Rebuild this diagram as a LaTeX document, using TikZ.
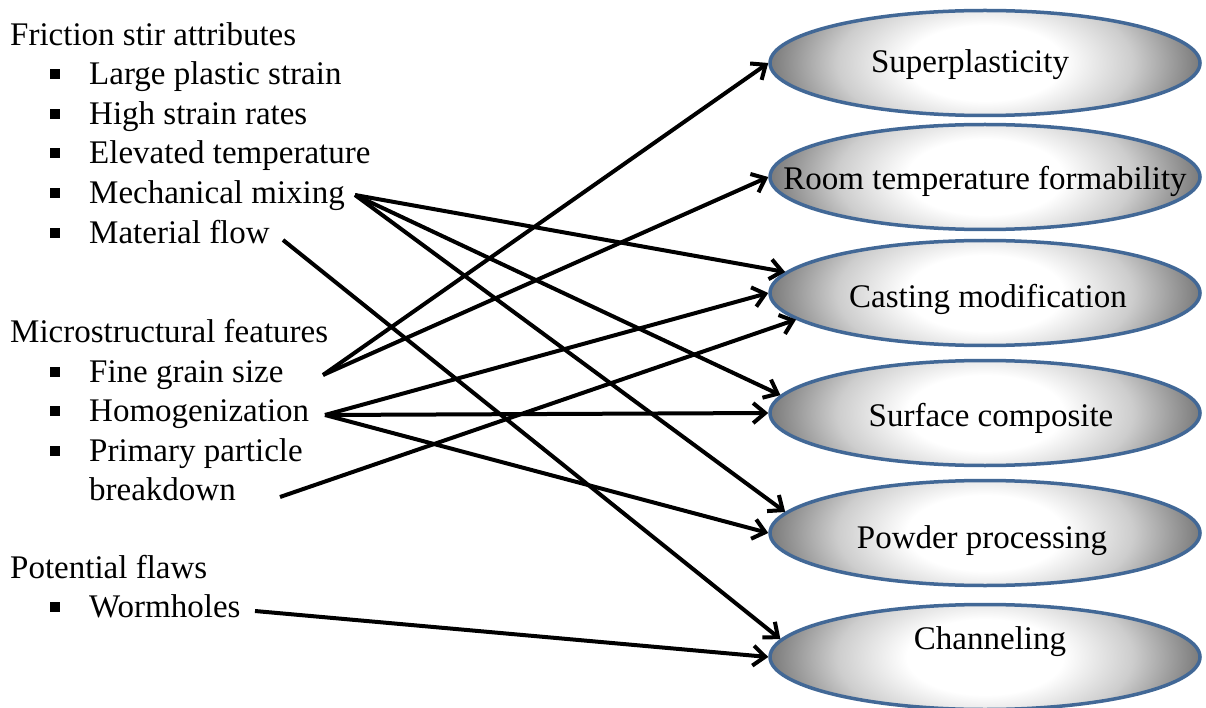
\documentclass[tikz,border=0pt]{standalone}
\usepackage{fontspec}
\setmainfont{Liberation Serif}
\usetikzlibrary{arrows.meta,shapes.geometric}
\definecolor{rimblue}{RGB}{66,104,150}
\definecolor{edgegray}{RGB}{120,120,120}
\definecolor{midgray}{RGB}{205,205,205}
% white centre fading to grey at the rim
\pgfdeclareradialshading{lens}{\pgfpoint{0bp}{0bp}}{%
  color(0bp)=(white); color(9bp)=(white); color(17bp)=(midgray);
  color(25bp)=(edgegray); color(50bp)=(edgegray)}
% square list bullet hanging left of the item text
\newcommand\sqbullet{\llap{\rule[5.5pt]{10pt}{10pt}\hspace{29pt}}}
\begin{document}
\begin{tikzpicture}[x=1pt,y=-1pt,
  every node/.style={font=\fontsize{33}{40}\selectfont, inner sep=0pt},
  head/.style={anchor=base west},
  item/.style={anchor=base west},
  outcome/.style={ellipse, draw=rimblue, line width=3.5pt,
    minimum width=430pt, minimum height=105pt,
    path picture={\shade[shading=lens]
      (path picture bounding box.center) ellipse [x radius=217pt, y radius=105pt];}},
  link/.style={line width=4pt, -{Straight Barb[length=12pt,width=20pt]}}
]
\useasboundingbox (0,0) rectangle (1206,708);

% ---- left column: attributes, features, flaws ----
\node[head] (fsa)  at (10,46)  {Friction stir attributes};
\node[item] (lps)  at (89,85)  {\sqbullet Large plastic strain};
\node[item] (hsr)  at (89,125) {\sqbullet High strain rates};
\node[item] (elt)  at (89,164) {\sqbullet Elevated temperature};
\node[item] (mmx)  at (89,204) {\sqbullet Mechanical mixing};
\node[item] (mfl)  at (89,244) {\sqbullet Material flow};
\node[head] (msf)  at (10,342) {Microstructural features};
\node[item] (fgs)  at (89,382) {\sqbullet Fine grain size};
\node[item] (hom)  at (89,421) {\sqbullet Homogenization};
\node[item] (ppb)  at (89,461) {\sqbullet Primary particle};
\node[item] (ppb2) at (89,500) {breakdown};
\node[head] (pfl)  at (10,578) {Potential flaws};
\node[item] (wrm)  at (89,617) {\sqbullet Wormholes};

% ---- right column: applications ----
\node[outcome] (sup)  at (985,63)  {};
\node[outcome] (room) at (985,177) {};
\node[outcome] (cast) at (985,293) {};
\node[outcome] (surf) at (985,413) {};
\node[outcome] (powd) at (985,533) {};
\node[outcome] (chan) at (985,657) {};

\node at ([xshift=-15pt,yshift=-2pt]sup.center) {Superplasticity};
\node at ([yshift=-4pt]room.center) {Room temperature formability};
\node at ([xshift=3pt,yshift=-6pt]cast.center) {Casting modification};
\node at ([xshift=6pt,yshift=-5pt]surf.center) {Surface composite};
\node at ([xshift=-3pt,yshift=-8pt]powd.center) {Powder processing};
\node at ([xshift=5pt,yshift=15pt]chan.center) {Channeling};

% ---- connector start points beside the item texts ----
\coordinate (mmxOut) at (355,195);
\coordinate (mflOut) at (283,240);
\coordinate (fgsOut) at (323,375);
\coordinate (homOut) at (325,415);
\coordinate (ppbOut) at (280,497);
\coordinate (wrmOut) at (255,611);

% ---- connectors ----
\draw[link] (fgsOut) -- (sup.west);
\draw[link] (fgsOut) -- (room.west);
\draw[link] (mmxOut) -- (cast.174);
\draw[link] (mmxOut) -- (surf.175);
\draw[link] (mmxOut) -- (powd.174);
\draw[link] (mflOut) -- (chan.175);
\draw[link] (homOut) -- (cast.west);
\draw[link] (homOut) -- (surf.west);
\draw[link] (homOut) -- (powd.west);
\draw[link] (ppbOut) -- (cast.188);
\draw[link] (wrmOut) -- (chan.west);
\end{tikzpicture}
\end{document}
